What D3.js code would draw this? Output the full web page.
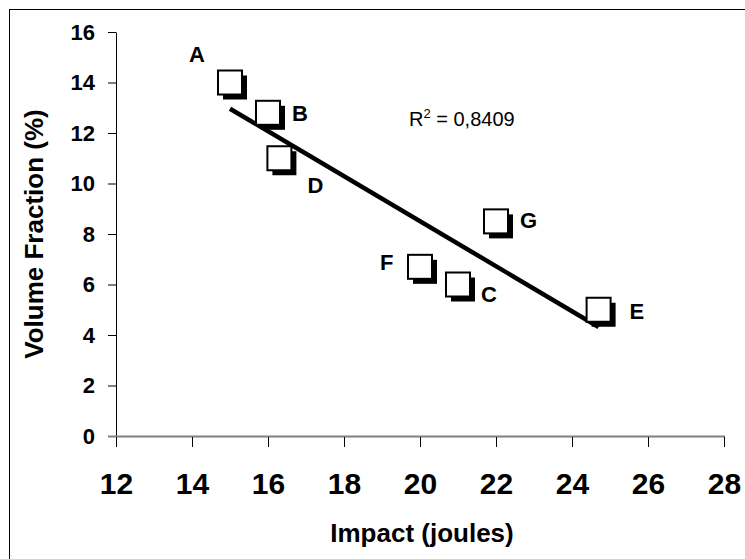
<!DOCTYPE html>
<html>
<head>
<meta charset="utf-8">
<script src="https://cdn.jsdelivr.net/npm/d3@7"></script>
<style>
  body { margin: 0; background: #fff; }
  text { font-family: "Liberation Sans", Arial, sans-serif; }
</style>
</head>
<body>
<div id="chart"></div>
<script>
// data
var names = ["A", "B", "D", "F", "C", "G", "E"];
var impact = [15, 16, 16.3, 20, 21, 22, 24.7];
var volume = [14, 12.8, 11, 6.7, 6, 8.5, 5];
var xTicks = [12, 14, 16, 18, 20, 22, 24, 26, 28];
var yTicks = [0, 2, 4, 6, 8, 10, 12, 14, 16];
var r2Label = "0,8409";

// where each letter sits relative to its marker
var labelOffsets = {
  A: [-41, -21], B: [24, 8], D: [28, 35], F: [-40, 3],
  C: [23, 17], G: [24, 7], E: [31, 9]
};

var width = 745, height = 559;
var boxSize = 24, shadow = 5;

var svg = d3.select("#chart").append("svg")
  .attr("width", width)
  .attr("height", height);

svg.append("rect")
  .attr("x", 9.5).attr("y", 9.5)
  .attr("width", width).attr("height", height)
  .attr("fill", "#fff")
  .attr("stroke", "#000");

var x = d3.scaleLinear().domain([12, 28]).range([116, 724]);
var y = d3.scaleLinear().domain([0, 16]).range([436, 32]);

// y axis
var yAxis = svg.append("g")
  .attr("transform", "translate(" + x(12) + ",0)")
  .call(d3.axisLeft(y).tickValues(yTicks).tickSize(8).tickSizeOuter(0).tickPadding(13));
yAxis.select(".domain").attr("stroke", "#000");
yAxis.selectAll(".tick text")
  .attr("font-size", 22).attr("font-weight", "bold").attr("fill", "#000")
  .style("font-family", '"Liberation Sans", Arial, sans-serif');

// x axis line is grey, ticks black
svg.append("line")
  .attr("x1", x(12) - 8).attr("x2", x(28) + 1)
  .attr("y1", y(0) + 0.5).attr("y2", y(0) + 0.5)
  .attr("stroke", "#808080").attr("stroke-width", 2);

var xAxis = svg.append("g")
  .attr("transform", "translate(0," + (y(0) + 1) + ")")
  .call(d3.axisBottom(x).tickValues(xTicks).tickSize(10));
xAxis.select(".domain").remove();
xAxis.selectAll(".tick text")
  .attr("dy", null).attr("y", 57)
  .attr("font-size", 30).attr("font-weight", "bold").attr("fill", "#000")
  .style("font-family", '"Liberation Sans", Arial, sans-serif');

// axis titles
svg.append("text")
  .attr("x", (x(12) + x(28)) / 2 + 2).attr("y", 542)
  .attr("text-anchor", "middle")
  .attr("font-size", 26).attr("font-weight", "bold")
  .text("Impact (joules)");

svg.append("text")
  .attr("transform", "translate(43," + 234 + ") rotate(-90)")
  .attr("text-anchor", "middle")
  .attr("font-size", 26).attr("font-weight", "bold")
  .text("Volume Fraction (%)");

// least squares trend line
var n = impact.length;
var mx = d3.mean(impact), my = d3.mean(volume);
var sxy = 0, sxx = 0;
for (var i = 0; i < n; i++) {
  sxy += (impact[i] - mx) * (volume[i] - my);
  sxx += (impact[i] - mx) * (impact[i] - mx);
}
var slope = sxy / sxx, icept = my - slope * mx;
var x0 = d3.min(impact), x1 = d3.max(impact);

svg.append("line")
  .attr("x1", x(x0)).attr("y1", y(icept + slope * x0))
  .attr("x2", x(x1)).attr("y2", y(icept + slope * x1))
  .attr("stroke", "#000").attr("stroke-width", 4.5);

// markers: white boxes with a black drop shadow
var pts = names.map(function (d, i) { return { name: d, x: impact[i], y: volume[i] }; });

var g = svg.selectAll("g.pt")
  .data(pts)
  .enter().append("g")
  .attr("class", "pt")
  .attr("transform", function (d) { return "translate(" + x(d.x) + "," + y(d.y) + ")"; });

g.append("rect")
  .attr("x", -boxSize / 2 + shadow).attr("y", -boxSize / 2 + shadow)
  .attr("width", boxSize).attr("height", boxSize)
  .attr("fill", "#000");

g.append("rect")
  .attr("x", -boxSize / 2).attr("y", -boxSize / 2)
  .attr("width", boxSize).attr("height", boxSize)
  .attr("fill", "#fff")
  .attr("stroke", "#000").attr("stroke-width", 2);

g.append("text")
  .attr("x", function (d) { return labelOffsets[d.name][0]; })
  .attr("y", function (d) { return labelOffsets[d.name][1]; })
  .attr("font-size", 22).attr("font-weight", "bold")
  .text(function (d) { return d.name; });

// R squared note
var r2 = svg.append("text")
  .attr("x", 409).attr("y", 126)
  .attr("font-size", 20);
r2.append("tspan").text("R");
r2.append("tspan").attr("dy", -8).attr("font-size", 13).text("2");
r2.append("tspan").attr("dy", 8).text(" = " + r2Label);
</script>
</body>
</html>
